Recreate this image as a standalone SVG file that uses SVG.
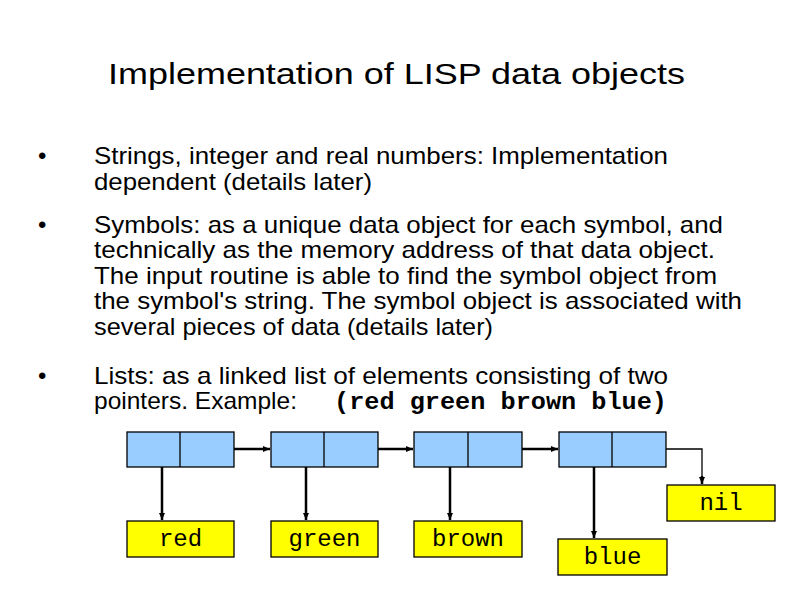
<svg xmlns="http://www.w3.org/2000/svg" width="794" height="595" viewBox="0 0 794 595">
<defs>
<marker id="ah" markerWidth="8" markerHeight="8" refX="7" refY="4" orient="auto" markerUnits="userSpaceOnUse">
<path d="M0,1 L7,4 L0,7 Z" fill="#000"/>
</marker>
<style>
.t{font-family:"Liberation Sans",Arial,sans-serif;font-size:24px;fill:#000}
.title{font-family:"Liberation Sans",Arial,sans-serif;font-size:30px;fill:#000}
.code{font-family:"Liberation Mono","Courier New",monospace;font-size:24px;fill:#000}
.cell{fill:#99ccff;stroke:#000;stroke-width:1.3}
.val{fill:#ffff00;stroke:#000;stroke-width:1.3}
.c{stroke:#000;stroke-width:2.5;fill:none}
.thin{stroke:#000;stroke-width:1.3;fill:none}
</style>
</defs>
<rect width="794" height="595" fill="#fff"/>
<text class="title" x="108" y="84" textLength="577" lengthAdjust="spacingAndGlyphs">Implementation of LISP data objects</text>
<g id="bullets">
<text class="t" x="38" y="164">•</text>
<text class="t" x="38" y="233">•</text>
<text class="t" x="38" y="384">•</text>
</g>
<g id="text">
<text class="t" x="94" y="164" textLength="574" lengthAdjust="spacingAndGlyphs">Strings, integer and real numbers: Implementation</text>
<text class="t" x="94" y="190" textLength="278" lengthAdjust="spacingAndGlyphs">dependent (details later)</text>
<text class="t" x="94" y="233" textLength="629" lengthAdjust="spacingAndGlyphs">Symbols: as a unique data object for each symbol, and</text>
<text class="t" x="94" y="258" textLength="621" lengthAdjust="spacingAndGlyphs">technically as the memory address of that data object.</text>
<text class="t" x="94" y="284" textLength="623" lengthAdjust="spacingAndGlyphs">The input routine is able to find the symbol object from</text>
<text class="t" x="94" y="309" textLength="648" lengthAdjust="spacingAndGlyphs">the symbol's string. The symbol object is associated with</text>
<text class="t" x="94" y="335" textLength="399" lengthAdjust="spacingAndGlyphs">several pieces of data (details later)</text>
<text class="t" x="94" y="384" textLength="574" lengthAdjust="spacingAndGlyphs">Lists: as a linked list of elements consisting of two</text>
<text class="t" x="94" y="409" textLength="203" lengthAdjust="spacingAndGlyphs">pointers. Example:</text>
<text class="code" x="334" y="409" font-weight="bold" font-size="25" textLength="333" lengthAdjust="spacingAndGlyphs">(red green brown blue)</text>
</g>
<g id="cell1"><rect class="cell" x="127" y="432" width="107" height="35"/><line class="thin" x1="180" y1="432" x2="180" y2="467"/></g>
<g id="cell2"><rect class="cell" x="271" y="432" width="107" height="35"/><line class="thin" x1="324" y1="432" x2="324" y2="467"/></g>
<g id="cell3"><rect class="cell" x="414" y="432" width="108" height="35"/><line class="thin" x1="468" y1="432" x2="468" y2="467"/></g>
<g id="cell4"><rect class="cell" x="559" y="432" width="107" height="35"/><line class="thin" x1="612" y1="432" x2="612" y2="467"/></g>
<g id="red"><rect class="val" x="127" y="521" width="107" height="36"/><text class="code" x="180.5" y="546" text-anchor="middle">red</text></g>
<g id="green"><rect class="val" x="271" y="521" width="107" height="36"/><text class="code" x="324.5" y="546" text-anchor="middle">green</text></g>
<g id="brown"><rect class="val" x="414" y="521" width="108" height="36"/><text class="code" x="468" y="546" text-anchor="middle">brown</text></g>
<g id="blue"><rect class="val" x="558" y="539" width="109" height="36"/><text class="code" x="612.5" y="564" text-anchor="middle">blue</text></g>
<g id="nil"><rect class="val" x="667" y="485" width="108" height="36"/><text class="code" x="721" y="510" text-anchor="middle">nil</text></g>
<g id="connectors">
<line class="c" x1="234" y1="449" x2="270" y2="449" marker-end="url(#ah)"/>
<line class="c" x1="378" y1="449" x2="413" y2="449" marker-end="url(#ah)"/>
<line class="c" x1="522" y1="449" x2="558" y2="449" marker-end="url(#ah)"/>
<line class="c" x1="162" y1="467" x2="162" y2="520" marker-end="url(#ah)"/>
<line class="c" x1="306" y1="467" x2="306" y2="520" marker-end="url(#ah)"/>
<line class="c" x1="450" y1="467" x2="450" y2="520" marker-end="url(#ah)"/>
<line class="c" x1="594" y1="467" x2="594" y2="538" marker-end="url(#ah)"/>
<polyline class="thin" points="666,449 702,449 702,478"/>
<line class="c" x1="702" y1="476" x2="702" y2="484" marker-end="url(#ah)"/>
</g>
</svg>
